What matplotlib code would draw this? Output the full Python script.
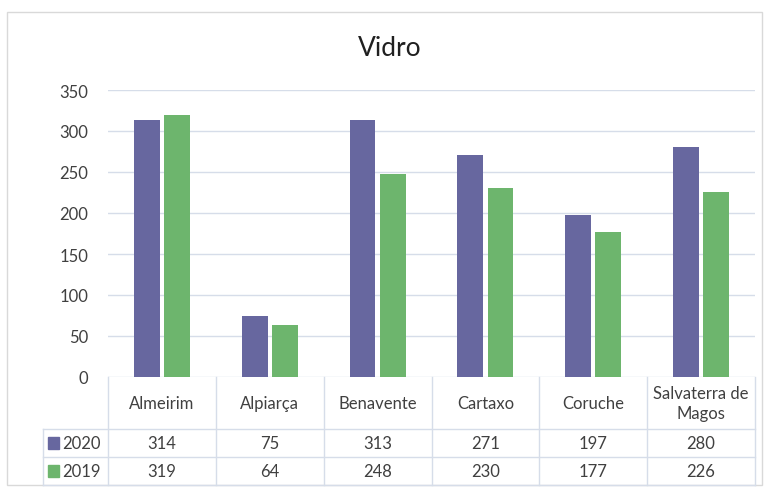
import numpy as np
import matplotlib.pyplot as plt
from matplotlib.transforms import blended_transform_factory
from matplotlib.patches import Rectangle

categories = ['Almeirim', 'Alpiarça', 'Benavente', 'Cartaxo', 'Coruche', 'Salvaterra de\nMagos']
series_names = ['2020', '2019']
values_2020 = [314, 75, 313, 271, 197, 280]
values_2019 = [319, 64, 248, 230, 177, 226]
yticks = [0, 50, 100, 150, 200, 250, 300, 350]

c2020 = '#67679f'
c2019 = '#6db56d'
grid_c = '#d6dde9'
font = ['Lato', 'DejaVu Sans']
plt.rcParams['font.family'] = font

W, H = 766, 489
fig = plt.figure(figsize=(W / 100, H / 100), dpi=100)

def fx(px):
    return px / W

def fy(py):
    return 1 - py / H

# plot area in pixels
left, right, top, bottom = 108, 755, 91, 378
ax = fig.add_axes([fx(left), fy(bottom), fx(right) - fx(left), fy(top) - fy(bottom)])

x = np.arange(len(categories))
ax.bar(x - 0.14, values_2020, width=0.24, color=c2020, zorder=3)
ax.bar(x + 0.14, values_2019, width=0.24, color=c2019, zorder=3)

ax.set_xlim(-0.5, len(categories) - 0.5)
ax.set_ylim(0, 350)
ax.set_yticks(yticks)
ax.set_yticklabels([str(v) for v in yticks], fontsize=12, color='#404040')
ax.tick_params(axis='y', length=0, pad=14)
ax.set_xticks([])
ax.yaxis.grid(True, color=grid_c, linewidth=1, zorder=0)
for s in ax.spines.values():
    s.set_visible(False)

fig.text(fx(390), fy(48), 'Vidro', fontsize=19, ha='center', va='center', color='#202020')

# chart border
fig.patches.append(Rectangle((fx(7), fy(486)), fx(762) - fx(7), fy(13) - fy(486),
                             transform=fig.transFigure, fill=False, edgecolor='#d9d9d9', linewidth=1))

# data table
tr = blended_transform_factory(ax.transData, fig.transFigure)
row_y = [378, 430, 458, 486]
line_kw = dict(color=grid_c, linewidth=1)
for i in range(len(categories) + 1):
    fig.add_artist(plt.Line2D([i - 0.5, i - 0.5], [fy(row_y[0]), fy(row_y[-1])], transform=tr, **line_kw))
for yy in row_y[1:]:
    fig.add_artist(plt.Line2D([fx(43), fx(right)], [fy(yy), fy(yy)], transform=fig.transFigure, **line_kw))
fig.add_artist(plt.Line2D([fx(43), fx(43)], [fy(row_y[1]), fy(row_y[-1])], transform=fig.transFigure, **line_kw))

for i, cat in enumerate(categories):
    fig.text(i, fy(404), cat, transform=tr, ha='center', va='center', fontsize=12,
             color='#404040', linespacing=1.3)
    fig.text(i, fy(444), str(values_2020[i]), transform=tr, ha='center', va='center', fontsize=12, color='#404040')
    fig.text(i, fy(472), str(values_2019[i]), transform=tr, ha='center', va='center', fontsize=12, color='#404040')

for name, col, yy in zip(series_names, [c2020, c2019], [444, 472]):
    fig.patches.append(Rectangle((fx(48), fy(yy + 6)), fx(11), fy(yy - 6) - fy(yy + 6),
                                 transform=fig.transFigure, color=col))
    fig.text(fx(62), fy(yy), name, ha='left', va='center', fontsize=12, color='#404040')

fig.savefig('out.png', dpi=100, facecolor='white')
